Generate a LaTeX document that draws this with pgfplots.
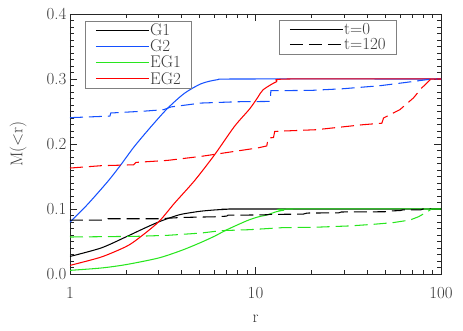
\documentclass[border=0pt]{standalone}
\usepackage{pgfplots}
\pgfplotsset{compat=1.18}
\definecolor{myblue}{RGB}{20,80,255}
\definecolor{mygreen}{RGB}{40,230,30}
\definecolor{myred}{RGB}{255,0,0}
\definecolor{txt}{RGB}{60,60,60}
\pgfplotsset{
  mylegend/.style={
    legend cell align=left,
    legend image code/.code={\draw[##1] (0bp,0bp) -- (53bp,0bp);},
    legend style={draw=black!50, line width=0.6bp, fill=white,
      inner xsep=10bp, inner ysep=2bp, row sep=1.2bp,
      font=\fontsize{17}{18}\selectfont, text=txt,
      nodes={inner sep=0.8bp}},
  },
}
\begin{document}
\begin{tikzpicture}
\begin{axis}[
  name=main,
  scale only axis, width=371bp, height=260bp,
  xmode=log, xmin=1, xmax=100, ymin=0, ymax=0.4,
  xtick={1,10,100}, xticklabels={1,10,100},
  minor xtick={2,3,4,5,6,7,8,9,20,30,40,50,60,70,80,90},
  ytick={0,0.1,0.2,0.3,0.4}, yticklabels={0.0,0.1,0.2,0.3,0.4},
  minor ytick={0.01,0.02,...,0.395},
  major tick length=7bp, minor tick length=4bp,
  axis line style={black!85, line width=0.8bp},
  every tick/.style={black!85, line width=0.6bp},
  tick label style={font=\fontsize{17}{18}\selectfont, text=txt},
  xticklabel style={yshift=-10bp},
  xlabel={r}, ylabel={M($<$r)},
  label style={font=\fontsize{17}{18}\selectfont, text=txt},
  xlabel style={at={(axis description cs:0.5,-0.173)}, anchor=center},
  ylabel style={at={(axis description cs:-0.140,0.5)}, anchor=center},
  mylegend,
  legend style={at={(axis description cs:0.0404,0.974)}, anchor=north west,
    /tikz/every even column/.append style={column sep=7bp}},
  every axis plot/.append style={line width=1.05bp},
]
\addlegendimage{black, line width=1.05bp}
\addlegendentry{G1}
\addlegendimage{myblue, line width=1.05bp}
\addlegendentry{G2}
\addlegendimage{mygreen, line width=1.05bp}
\addlegendentry{EG1}
\addlegendimage{myred, line width=1.05bp}
\addlegendentry{EG2}
% solid lines, t=0
\addplot[black, smooth, tension=0.45, forget plot] coordinates {(1,0.027)(1.47,0.040)(2,0.057)(2.5,0.070)(3,0.080)(3.5,0.087)(4,0.092)(5,0.0964)(6,0.0985)(7,0.0995)(8,0.1)(100,0.1)};
\addplot[myblue, smooth, tension=0.45, forget plot] coordinates {(1,0.080)(1.24,0.1067)(1.6,0.1425)(1.88,0.168)(2.22,0.196)(2.74,0.227)(3.36,0.255)(4.14,0.278)(5.1,0.2928)(6.26,0.299)(8,0.3)(100,0.3)};
\addplot[mygreen, smooth, tension=0.45, forget plot] coordinates {(1,0.0056)(1.47,0.0092)(2,0.0144)(3,0.0246)(4,0.0364)(5,0.0477)(6,0.058)(7,0.068)(9,0.082)(10.3,0.0877)(11.5,0.0908)(13,0.096)(14.1,0.098)(15,0.1)(100,0.1)};
\addplot[myred, smooth, tension=0.45, forget plot] coordinates {(1,0.0133)(1.47,0.026)(2,0.042)(2.32,0.054)(3,0.080)(3.66,0.109)(4.69,0.1435)(6.02,0.1835)(7.7,0.227)(9.3,0.254)(10.3,0.272)(11,0.2835)(13,0.296)(15,0.3)(100,0.3)};
% dashed lines, t=120
\addplot[black, dash pattern=on 13bp off 6bp, forget plot] coordinates {(1,0.083)(1.55,0.083)(1.6,0.085)(3,0.085)(4,0.087)(6,0.088)(7,0.089)(7.1,0.0905)(10,0.0908)(11.6,0.0912)(12,0.0918)(18,0.092)(19,0.0938)(28,0.094)(29,0.0954)(50,0.0958)(52,0.097)(60,0.0975)(62,0.0985)(78,0.0988)(80,0.1)(100,0.1)};
\addplot[myblue, dash pattern=on 13bp off 6bp, forget plot] coordinates {(1,0.2405)(1.5,0.2425)(1.64,0.2428)(1.66,0.2477)(2.5,0.2505)(3.2,0.2528)(3.5,0.257)(5.1,0.263)(8,0.265)(12,0.2655)(12.1,0.282)(20,0.2825)(29.6,0.285)(47,0.2897)(65,0.2948)(84,0.299)(90,0.3)(100,0.3)};
\addplot[mygreen, dash pattern=on 13bp off 6bp, forget plot] coordinates {(1,0.0569)(2.3,0.058)(3.36,0.0595)(5.1,0.063)(6.5,0.0667)(9.3,0.0682)(14,0.0713)(21.3,0.072)(32.4,0.074)(43,0.0764)(55,0.079)(68,0.083)(75.5,0.088)(84,0.0954)(89,0.1)(100,0.1)};
\addplot[myred, dash pattern=on 13bp off 6bp, forget plot] coordinates {(1,0.163)(1.47,0.1666)(2.2,0.168)(2.27,0.1717)(3.36,0.1748)(5.1,0.181)(7.7,0.1886)(10.3,0.194)(11.5,0.197)(11.7,0.209)(12.5,0.210)(12.7,0.2194)(21.3,0.222)(38,0.2297)(48,0.232)(49,0.24)(60,0.2528)(71,0.2708)(78.6,0.286)(87.6,0.299)(90,0.3)(100,0.3)};
\end{axis}
\begin{axis}[
  scale only axis, width=371bp, height=260bp,
  hide axis, xmin=0, xmax=1, ymin=0, ymax=1,
  mylegend,
  legend style={at={(axis description cs:0.881,0.977)}, anchor=north east,
    /tikz/every even column/.append style={column sep=10bp}},
]
\addlegendimage{black, line width=1.05bp}
\addlegendentry{t=0}
\addlegendimage{black, line width=1.05bp, dash pattern=on 13bp off 6bp}
\addlegendentry{t=120}
\end{axis}
\path (main.south west) ++(-70bp,-57bp) rectangle ([shift={(22bp,14bp)}]main.north east);
\end{tikzpicture}
\end{document}
